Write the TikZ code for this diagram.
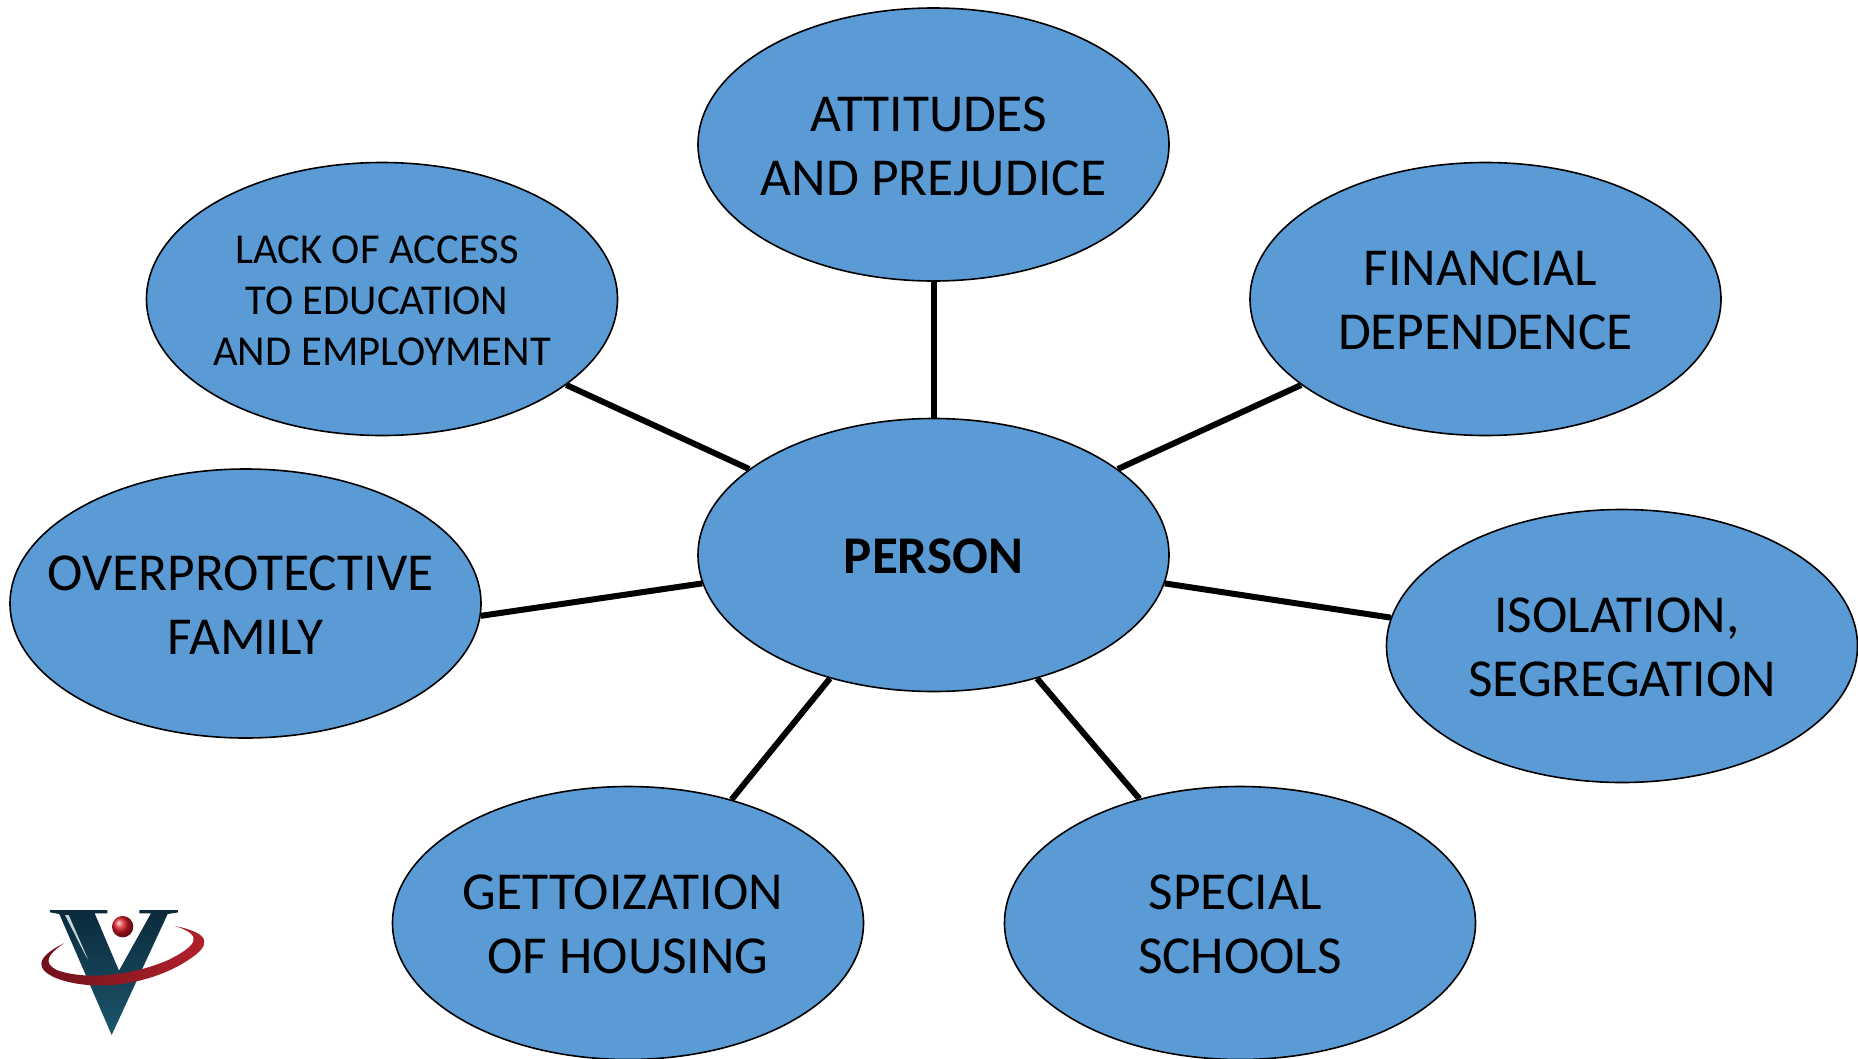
\documentclass[tikz,border=0pt]{standalone}
\usepackage{fontspec}
\setmainfont{Carlito}
\usetikzlibrary{shapes.geometric}
\definecolor{bub}{HTML}{5B9BD5}
\definecolor{vdark}{HTML}{0B2A3C}
\definecolor{vteal}{HTML}{1C566B}
\definecolor{rdark}{HTML}{6E0F1A}
\definecolor{rred}{HTML}{B5202C}
\newcommand{\ts}{\hspace*{10pt}}
\newcommand{\wl}[1]{\makebox[0pt][c]{#1}}
\newcommand{\dn}{\rule{0pt}{38pt}}
\newcommand{\dns}{\rule{0pt}{31pt}}
\tikzset{
  bubble/.style={ellipse,draw=black,line width=1.6pt,fill=bub,minimum width=471pt,minimum height=273pt,inner sep=0pt,align=center,text=black,font=\fontsize{53.4}{64}\selectfont},
  bubblesmall/.style={bubble,font=\fontsize{42.6}{51}\selectfont},
  link/.style={draw=black,line width=6pt}
}
\begin{document}
\begin{tikzpicture}[x=1pt,y=-1pt]
\useasboundingbox (0,0) rectangle (1858,1058);
\clip (0,0) rectangle (1858,1058);
\fill[white] (0,0) rectangle (1858,1058);
\node[bubble] (att) at (933.5,144.5) {\dn\wl{ATTITUDES\ts}\\\wl{AND PREJUDICE}};
\node[bubblesmall] (lack) at (382,299) {\dns\wl{LACK OF ACCESS\ts}\\\wl{TO EDUCATION\ts}\\\wl{AND EMPLOYMENT}};
\node[bubble] (fin) at (1485.5,299) {\dn\wl{FINANCIAL\ts}\\\wl{DEPENDENCE}};
\node[bubble,minimum height=269pt] (over) at (245.5,603.5) {\dn\wl{OVERPROTECTIVE\ts}\\\wl{FAMILY}};
\node[bubble,font=\fontsize{53}{64}\selectfont\bfseries] (per) at (933.5,555) {\dn\wl{PERSON}};
\node[bubble] (iso) at (1622,646) {\dn\wl{ISOLATION,\ts}\\\wl{SEGREGATION}};
\node[bubble] (get) at (628,923) {\dn\wl{GETTOIZATION\ts}\\\wl{OF HOUSING}};
\node[bubble] (spe) at (1240,923) {\dn\wl{SPECIAL\ts}\\\wl{SCHOOLS}};
\draw[link] (per.90) -- (att.270);
\draw[link] (per.155.7) -- (lack.-25.5);
\draw[link] (per.25.1) -- (fin.205.5);
\draw[link] (per.187.7) -- (over.-3.2);
\draw[link] (per.-7.6) -- (iso.173);
\draw[link] (per.230.6) -- (get.50);
\draw[link] (per.-50.3) -- (spe.129.7);
% logo
\begin{scope}[shift={(20,880)},x=0.3333pt,y=-0.3333pt]
\path[top color=vdark,bottom color=vteal]
  (90,90) -- (262,90) -- (262,100) -- (224,100) -- (297,272) -- (393,100) -- (358,100) -- (358,90) -- (475,90) -- (475,97) -- (443,102) -- (275,465) -- (118,102) -- (90,97) -- cycle;
\fill[white!75!vteal] (135,105) -- (146,105) -- (205,240) -- (196,225) -- cycle;
\shade[ball color={rgb,1:red,0.85;green,0.1;blue,0.15}] (308,140) circle (32);
\path[left color=rdark,right color=rred,middle color=rred!80!black]
  (132,190) .. controls (40,235) and (50,270) .. (110,295)
  .. controls (230,340) and (400,310) .. (505,240)
  .. controls (575,195) and (575,160) .. (465,138)
  .. controls (550,165) and (535,195) .. (445,240)
  .. controls (330,290) and (190,300) .. (110,270)
  .. controls (70,250) and (80,225) .. (132,190) -- cycle;
\end{scope}
\end{tikzpicture}
\end{document}
